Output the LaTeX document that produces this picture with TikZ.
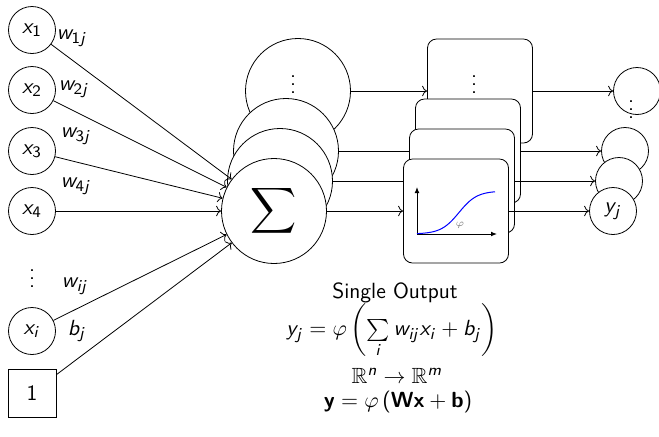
\documentclass[tikz,border=0pt]{standalone}
\usepackage{amssymb}
\DeclareSymbolFont{operators}{OT1}{cmss}{m}{n}
\SetSymbolFont{operators}{bold}{OT1}{cmss}{bx}{n}
\DeclareMathAlphabet{\si}{OT1}{cmss}{m}{sl}
\DeclareMathAlphabet{\sfb}{OT1}{cmss}{bx}{n}
\usetikzlibrary{arrows.meta}
\begin{document}
\begin{tikzpicture}[x=0.5pt,y=-0.5pt,
  font=\fontsize{11}{13}\selectfont\sffamily,
  inp/.style={circle,draw,fill=white,minimum size=23.5pt,inner sep=0pt},
  onebox/.style={rectangle,draw,fill=white,minimum size=24pt,inner sep=0pt},
  sumc/.style={circle,draw,fill=white,minimum size=52.5pt,inner sep=0pt},
  actbox/.style={rectangle,rounded corners=4.5pt,draw,fill=white,minimum width=52.5pt,minimum height=52pt,inner sep=0pt},
  outc/.style={circle,draw,fill=white,minimum size=23.5pt,inner sep=0pt},
  conn/.style={->},
  lbl/.style={inner sep=0pt},
  dotsn/.style={inner sep=0pt,anchor=base},
  axis/.style={-{Latex[length=3pt,width=2.4pt]},line width=0.5pt},
  sig/.style={blue,line width=0.5pt}]
\useasboundingbox (0,0) rectangle (659,436);

% layer 4 (back)
\node[sumc] (s4) at (298,91) {};
\node[actbox] (b4) at (480,91) {};
\node[outc] (o4) at (637,91) {};
\node[dotsn] (d4s) at (293,93) {$\vdots$};
\node[dotsn] (d4b) at (474,93) {$\vdots$};
\draw[conn] (s4) -- (b4);
\draw[conn] (b4) -- (o4);
\node[dotsn] (d4o) at (631,118) {$\vdots$};

% layer 2
\node[sumc] (s2) at (286,151) {};
\node[actbox] (b2) at (468,151) {};
\node[outc] (o2) at (625,151) {};
\draw[conn] (s2) -- (b2);
\draw[conn] (b2) -- (o2);

% layer 1
\node[sumc] (s1) at (280,181) {};
\node[actbox] (b1) at (462,181) {};
\node[outc] (o1) at (619,181) {};
\draw[conn] (s1) -- (b1);
\draw[conn] (b1) -- (o1);

% layer 0 (front)
\node[sumc] (s0) at (274,211) {\fontsize{16}{18}\selectfont$\displaystyle\sum$};
\node[actbox] (b0) at (456,211) {};
\node[outc] (o0) at (613,211) {$\si{y}_{\si{j}}$};
\draw[conn] (s0) -- (b0);
\draw[conn] (b0) -- (o0);

% activation plot
\coordinate (po) at (417,234);
\coordinate (py) at (417,187);
\coordinate (px) at (497,234);
\draw[axis] (po) -- (py);
\draw[axis] (po) -- (px);
\draw[sig] plot[domain=0:78,samples=60,smooth] ({417+\x},{234-43/(1+exp(-(\x-42)/9))});
\node[lbl,text=gray,font=\tiny] (phi) at (460,225) {$\varphi$};

% inputs
\node[inp] (x1) at (32,30) {$\si{x}_1$};
\node[inp] (x2) at (32,90) {$\si{x}_2$};
\node[inp] (x3) at (32,151) {$\si{x}_3$};
\node[inp] (x4) at (32,211) {$\si{x}_4$};
\node[dotsn] (xd) at (32,287) {$\vdots$};
\node[inp] (xi) at (32,331) {$\si{x}_{\si{i}}$};
\node[onebox] (one) at (32,393) {1};

\draw[conn] (x1) -- (s0);
\draw[conn] (x2) -- (s0);
\draw[conn] (x3) -- (s0);
\draw[conn] (x4) -- (s0);
\draw[conn] (xi) -- (s0);
\draw[conn] (one) -- (s0);

\node[lbl] (w1) at (72,38) {$\si{w}_{1\si{j}}$};
\node[lbl] (w2) at (74,89) {$\si{w}_{2\si{j}}$};
\node[lbl] (w3) at (76,136) {$\si{w}_{3\si{j}}$};
\node[lbl] (w4) at (76,186) {$\si{w}_{4\si{j}}$};
\node[lbl] (wi) at (75,286) {$\si{w}_{\si{ij}}$};
\node[lbl] (bj) at (77,331) {$\si{b}_{\si{j}}$};

% formulas
\node[lbl] (t1) at (395,293) {Single Output};
\node[lbl] (t2) at (392,331) {$\si{y}_{\si{j}} = \varphi\left(\sum\limits_{\si{i}} \si{w}_{\si{ij}}\si{x}_{\si{i}} + \si{b}_{\si{j}}\right)$};
\node[lbl] (t3) at (397,376) {$\mathbb{R}^{\si{n}} \rightarrow \mathbb{R}^{\si{m}}$};
\node[lbl] (t4) at (398,402) {$\sfb{y} = \varphi\left(\sfb{Wx} + \sfb{b}\right)$};
\end{tikzpicture}
\end{document}
